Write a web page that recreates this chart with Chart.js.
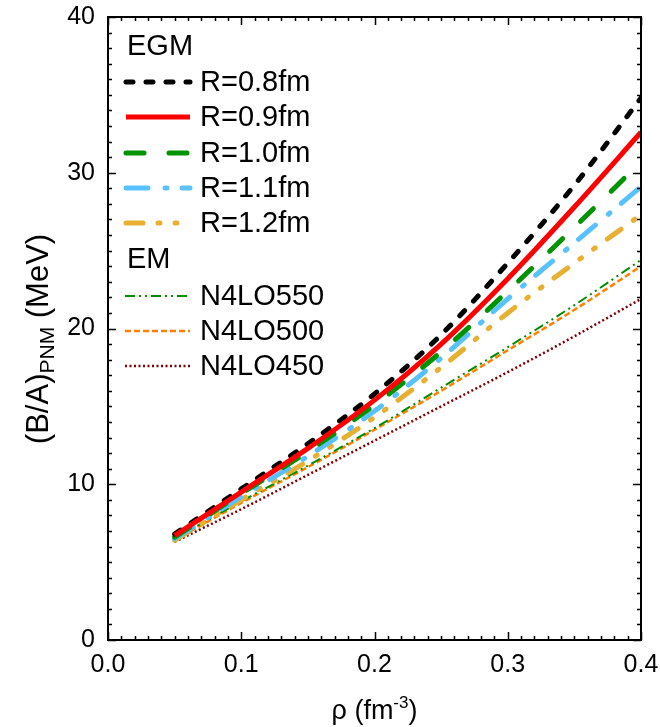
<!DOCTYPE html>
<html>
<head>
<meta charset="utf-8">
<script src="https://cdn.jsdelivr.net/npm/chart.js@4.4.1/dist/chart.umd.min.js"></script>
<style>
html,body{margin:0;padding:0;background:#fff;}
#wrap{width:660px;height:727px;position:relative;}
</style>
</head>
<body>
<div id="wrap"><canvas id="c" width="660" height="727"></canvas></div>
<script>
// ---- data ----
const rho = [0.05, 0.10, 0.15, 0.20, 0.25, 0.30, 0.35, 0.40];
const egmR08 = [6.8, 9.7, 12.6, 15.8, 19.6, 24.2, 29.2, 34.8];
const egmR09 = [6.7, 9.5, 12.3, 15.4, 19.0, 23.2, 27.8, 32.6];
const egmR10 = [6.6, 9.4, 12.1, 15.1, 18.5, 22.4, 26.5, 30.7];
const egmR11 = [6.5, 9.2, 11.8, 14.7, 18.1, 21.9, 25.5, 29.1];
const egmR12 = [6.4, 9.0, 11.5, 14.3, 17.5, 21.0, 24.2, 27.3];
const n4lo550 = [6.5, 8.9, 11.2, 13.6, 16.2, 18.8, 21.5, 24.4];
const n4lo500 = [6.4, 8.8, 11.1, 13.5, 16.0, 18.6, 21.2, 24.0];
const n4lo450 = [6.3, 8.4, 10.6, 12.8, 15.0, 17.2, 19.5, 21.9];
const seriesNames = ['R=0.8fm','R=0.9fm','R=1.0fm','R=1.1fm','R=1.2fm','N4LO550','N4LO500','N4LO450'];
const xTicks = [0.0, 0.1, 0.2, 0.3, 0.4];
const yTicks = [0, 10, 20, 30, 40];

const FONT = '"Liberation Sans", Arial, sans-serif';
const styles = [
  {color:'#000000', width:5, dash:[7,13], cap:'round'},
  {color:'#ff0000', width:5, dash:[], cap:'butt'},
  {color:'#009300', width:5, dash:[18,25], cap:'round'},
  {color:'#5ac1ff', width:5, dash:[22,17,2,15], cap:'round'},
  {color:'#e8b030', width:5, dash:[17,15,2,15,2,15], cap:'round'},
  {color:'#008a00', width:2, dash:[10,4,2,4,2,4], cap:'butt'},
  {color:'#ff8000', width:2.5, dash:[6,3], cap:'butt'},
  {color:'#800000', width:2.5, dash:[2,2.5], cap:'butt'}
];
const allData = [egmR08, egmR09, egmR10, egmR11, egmR12, n4lo550, n4lo500, n4lo450];

const datasets = allData.map((arr,i)=>({
  label: seriesNames[i],
  data: rho.map((x,j)=>({x:x, y:arr[j]})),
  borderColor: styles[i].color,
  borderWidth: styles[i].width,
  borderDash: styles[i].dash,
  borderCapStyle: styles[i].cap,
  pointRadius: 0,
  fill: false,
  cubicInterpolationMode: 'monotone'
}));
const order = [7,6,5,4,3,2,0,1];
datasets.forEach((d,i)=>{ d.order = -order.indexOf(i); });

function zeroPad(s){ s.paddingTop = 0; s.paddingBottom = 0; s.paddingLeft = 0; s.paddingRight = 0; }

const framePlugin = {
  id:'frame',
  afterDatasetsDraw(chart){
    const ctx = chart.ctx, a = chart.chartArea;
    const xs = chart.scales.x, ys = chart.scales.y;
    ctx.save();
    ctx.strokeStyle = '#000'; ctx.lineWidth = 2;
    ctx.strokeRect(a.left, a.top, a.right-a.left, a.bottom-a.top);
    ctx.lineWidth = 1.5;
    for(let k=0;k<=40;k++){
      const px = Math.round(xs.getPixelForValue(k*0.01))+0.5;
      const len = (k%10===0)?8:4;
      ctx.beginPath(); ctx.moveTo(px,a.bottom); ctx.lineTo(px,a.bottom-len); ctx.stroke();
      ctx.beginPath(); ctx.moveTo(px,a.top); ctx.lineTo(px,a.top+len); ctx.stroke();
    }
    for(let k=0;k<=40;k++){
      const py = Math.round(ys.getPixelForValue(k))+0.5;
      const len = (k%10===0)?8:4;
      ctx.beginPath(); ctx.moveTo(a.left,py); ctx.lineTo(a.left+len,py); ctx.stroke();
      ctx.beginPath(); ctx.moveTo(a.right,py); ctx.lineTo(a.right-len,py); ctx.stroke();
    }
    // legend
    ctx.fillStyle = '#000';
    ctx.textBaseline = 'middle';
    ctx.textAlign = 'left';
    ctx.font = '29px ' + FONT;
    ctx.fillText('EGM', 127, 47);
    ctx.fillText('EM', 127, 260);
    const rows = [82, 117, 153, 188, 223, 296, 331, 366];
    rows.forEach((ry,i)=>{
      const s = styles[i];
      ctx.save();
      ctx.strokeStyle = s.color; ctx.lineWidth = s.width; ctx.setLineDash(s.dash); ctx.lineCap = s.cap;
      ctx.beginPath(); ctx.moveTo(i<5?126:125, ry); ctx.lineTo(190, ry); ctx.stroke();
      ctx.restore();
      ctx.fillText(seriesNames[i], 200, ry+1);
    });
    // x title
    ctx.textBaseline = 'alphabetic';
    const p1 = 'ρ (fm', p3 = ')';
    ctx.font = '17px ' + FONT; const wSup = ctx.measureText('-3').width;
    ctx.font = '27px ' + FONT;
    const w1 = ctx.measureText(p1).width, w3 = ctx.measureText(p3).width;
    const tx = (a.left+a.right)/2 - (w1+wSup+w3)/2, ty = 719;
    ctx.fillText(p1, tx, ty);
    ctx.font = '17px ' + FONT; ctx.fillText('-3', tx+w1, ty-11);
    ctx.font = '27px ' + FONT; ctx.fillText(p3, tx+w1+wSup, ty);
    // y title
    ctx.save();
    ctx.translate(48, 339);
    ctx.rotate(-Math.PI/2);
    ctx.font = '31px ' + FONT; const q1 = '(B/A)', q3 = ' (MeV)';
    const wq1 = ctx.measureText(q1).width, wq3 = ctx.measureText(q3).width;
    ctx.font = '21px ' + FONT; const wq2 = ctx.measureText('PNM').width;
    const sx = -(wq1+wq2+wq3)/2;
    ctx.font = '31px ' + FONT; ctx.fillText(q1, sx, 0);
    ctx.font = '21px ' + FONT; ctx.fillText('PNM', sx+wq1, 6);
    ctx.font = '31px ' + FONT; ctx.fillText(q3, sx+wq1+wq2, 0);
    ctx.restore();
    ctx.restore();
  }
};

new Chart(document.getElementById('c'), {
  type:'line',
  data:{datasets},
  options:{
    responsive:false,
    animation:false,
    devicePixelRatio:1,
    layout:{padding:{top:17, right:19, left:0, bottom:0}},
    plugins:{legend:{display:false}, tooltip:{enabled:false}},
    scales:{
      x:{
        type:'linear', min:0, max:0.4,
        afterFit(s){ s.height = 87; zeroPad(s); },
        afterBuildTicks(s){ s.ticks = xTicks.map(v=>({value:v})); },
        grid:{display:false, drawTicks:false},
        border:{display:false},
        ticks:{padding:10, color:'#000', font:{size:25, family:FONT}, maxRotation:0,
          callback:(v)=>Number(v).toFixed(1)}
      },
      y:{
        type:'linear', min:0, max:40,
        afterFit(s){ s.width = 108; zeroPad(s); },
        afterBuildTicks(s){ s.ticks = yTicks.map(v=>({value:v})); },
        grid:{display:false, drawTicks:false},
        border:{display:false},
        ticks:{padding:13, color:'#000', font:{size:25, family:FONT},
          callback:(v)=>String(v)}
      }
    }
  },
  plugins:[framePlugin]
});
</script>
</body>
</html>
